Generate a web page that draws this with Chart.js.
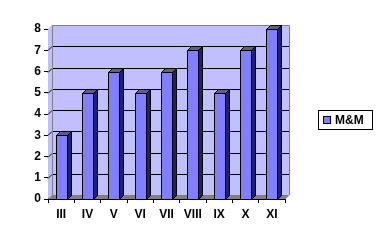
<!DOCTYPE html>
<html>
<head>
<meta charset="utf-8">
<script src="https://cdn.jsdelivr.net/npm/chart.js@4"></script>
<style>
html,body{margin:0;padding:0;background:#fff;}
#wrap{width:382px;height:240px;position:relative;}
canvas{display:block;}
</style>
</head>
<body>
<div id="wrap"><canvas id="c" width="382" height="240"></canvas></div>
<script>
const categories = ['III','IV','V','VI','VII','VIII','IX','X','XI'];
const mmValues = [3,5,6,5,6,7,5,7,8];
const seriesLabel = 'M&M';
const yMin = 0, yMax = 8, yStep = 1;

const DEPTH = 4;
const FONT = 'bold 12px "Liberation Sans", Arial, sans-serif';

const threeD = {
  id: 'threeD',
  beforeDatasetsDraw(chart) {
    const {ctx, chartArea: a, scales} = chart;
    const y = scales.y;
    const d = DEPTH;
    ctx.save();
    // back wall
    ctx.fillStyle = '#C0C0FF';
    ctx.fillRect(a.left + d, a.top - d, a.right - a.left, a.bottom - a.top);
    // side wall
    ctx.beginPath();
    ctx.moveTo(a.left, a.bottom);
    ctx.lineTo(a.left + d, a.bottom - d);
    ctx.lineTo(a.left + d, a.top - d);
    ctx.lineTo(a.left, a.top);
    ctx.closePath();
    ctx.fill();
    // floor
    ctx.fillStyle = '#808080';
    ctx.beginPath();
    ctx.moveTo(a.left, a.bottom);
    ctx.lineTo(a.left + d, a.bottom - d);
    ctx.lineTo(a.right + d, a.bottom - d);
    ctx.lineTo(a.right, a.bottom);
    ctx.closePath();
    ctx.fill();
    // gridlines
    ctx.strokeStyle = '#000';
    ctx.lineWidth = 1;
    for (let v = yMin + yStep; v < yMax; v += yStep) {
      const py = Math.round(y.getPixelForValue(v)) + 0.5;
      ctx.beginPath();
      ctx.moveTo(a.left, py);
      ctx.lineTo(a.left + d, py - d);
      ctx.lineTo(a.right + d, py - d);
      ctx.stroke();
    }
    // wall borders
    ctx.strokeStyle = '#808080';
    ctx.beginPath();
    ctx.moveTo(a.left + d + 0.5, a.bottom - d);
    ctx.lineTo(a.left + d + 0.5, Math.round(a.top - d) + 0.5);
    ctx.lineTo(a.right + d + 0.5, Math.round(a.top - d) + 0.5);
    ctx.lineTo(a.right + d + 0.5, a.bottom - d);
    ctx.lineTo(a.right, a.bottom);
    ctx.stroke();
    ctx.restore();
  },
  afterDatasetsDraw(chart) {
    const {ctx} = chart;
    const d = DEPTH;
    const meta = chart.getDatasetMeta(0);
    ctx.save();
    ctx.strokeStyle = '#000';
    ctx.lineWidth = 1;
    ctx.lineJoin = 'miter';
    meta.data.forEach(bar => {
      const w = bar.width;
      const l = Math.round(bar.x - w / 2) + 0.5;
      const r = Math.round(bar.x + w / 2) + 0.5;
      const t = Math.round(bar.y) + 0.5;
      const b = Math.round(bar.base) + 0.5;
      // side
      ctx.fillStyle = '#202070';
      ctx.beginPath();
      ctx.moveTo(r, t);
      ctx.lineTo(r + d, t - d);
      ctx.lineTo(r + d, b - d);
      ctx.lineTo(r, b);
      ctx.closePath();
      ctx.fill(); ctx.stroke();
      // top
      ctx.fillStyle = '#606080';
      ctx.beginPath();
      ctx.moveTo(l, t);
      ctx.lineTo(l + d, t - d);
      ctx.lineTo(r + d, t - d);
      ctx.lineTo(r, t);
      ctx.closePath();
      ctx.fill(); ctx.stroke();
      // front
      ctx.fillStyle = '#8080FF';
      ctx.fillRect(l, t, r - l, b - t);
      ctx.strokeRect(l, t, r - l, b - t);
    });
    ctx.restore();
  },
  afterDraw(chart) {
    const {ctx} = chart;
    ctx.save();
    ctx.fillStyle = '#fff';
    ctx.fillRect(318, 110, 55, 20);
    ctx.strokeStyle = '#000';
    ctx.lineWidth = 1;
    ctx.strokeRect(318.5, 110.5, 54, 19);
    ctx.fillStyle = '#8080FF';
    ctx.fillRect(323.5, 116.5, 7, 7);
    ctx.strokeRect(323.5, 116.5, 7, 7);
    ctx.fillStyle = '#000';
    ctx.font = FONT;
    ctx.textBaseline = 'middle';
    ctx.textAlign = 'left';
    ctx.fillText(chart.data.datasets[0].label, 335, 121);
    ctx.restore();
  }
};

new Chart(document.getElementById('c'), {
  type: 'bar',
  data: {
    labels: categories,
    datasets: [{
      label: seriesLabel,
      data: mmValues,
      backgroundColor: 'rgba(0,0,0,0)',
      borderWidth: 0,
      barPercentage: 0.42,
      categoryPercentage: 1.0
    }]
  },
  options: {
    responsive: false,
    animation: false,
    devicePixelRatio: 1,
    layout: { padding: { top: 29, right: 97, left: 0, bottom: 0 } },
    plugins: { legend: { display: false }, tooltip: { enabled: false } },
    scales: {
      x: {
        afterFit(s) { s.height = 41; },
        grid: { display: true, drawOnChartArea: false, tickLength: 4, color: '#000', offset: true },
        border: { display: true, color: '#000' },
        ticks: { color: '#000', font: { family: '"Liberation Sans", Arial, sans-serif', size: 12, weight: 'bold' }, padding: 4, maxRotation: 0, autoSkip: false }
      },
      y: {
        min: yMin, max: yMax,
        afterFit(s) { s.width = 48; },
        grid: { display: true, drawOnChartArea: false, tickLength: 4, color: '#000' },
        border: { display: true, color: '#000' },
        ticks: { stepSize: yStep, color: '#000', font: { family: '"Liberation Sans", Arial, sans-serif', size: 12, weight: 'bold' }, padding: 3 }
      }
    }
  },
  plugins: [threeD]
});
</script>
</body>
</html>
